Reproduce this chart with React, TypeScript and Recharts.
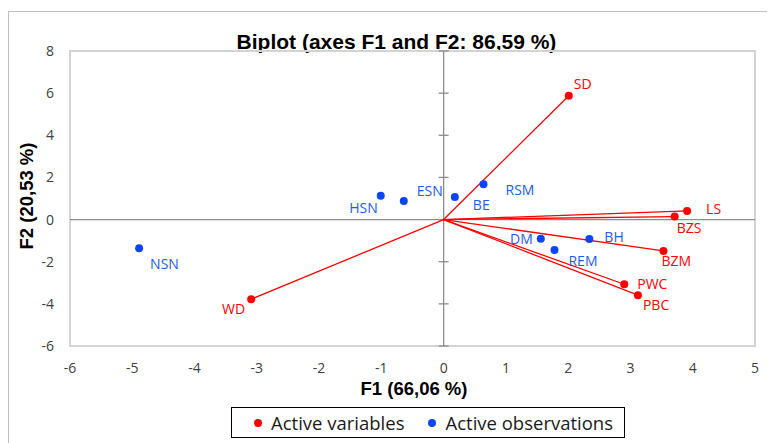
import {
    ScatterChart,
    Scatter,
    XAxis,
    YAxis,
    ReferenceLine,
    ReferenceArea,
    LabelList,
} from 'recharts';

const X_TICKS = [-6, -5, -4, -3, -2, -1, 0, 1, 2, 3, 4, 5];
const Y_TICKS = [-6, -4, -2, 0, 2, 4, 6, 8];

// active variables (red vectors)
const VARIABLE_NAMES = ['SD', 'LS', 'BZS', 'BZM', 'PWC', 'PBC', 'WD'];
const VARIABLE_F1 = [2.01, 3.91, 3.71, 3.53, 2.9, 3.12, -3.09];
const VARIABLE_F2 = [5.88, 0.41, 0.14, -1.49, -3.07, -3.59, -3.78];

// active observations (blue points)
const OBS_NAMES = ['HSN', 'ESN', 'BE', 'RSM', 'NSN', 'DM', 'BH', 'REM'];
const OBS_F1 = [-1.01, -0.64, 0.18, 0.64, -4.89, 1.56, 2.34, 1.78];
const OBS_F2 = [1.13, 0.88, 1.07, 1.68, -1.36, -0.91, -0.92, -1.44];

const RED = '#ff0000';
const BLUE = '#0b45f5';
const BLUE_TEXT = '#1f5af0';
const TICK_FONT = '"Open Sans", sans-serif';
const BOLD_FONT = '"Liberation Sans", Arial, sans-serif';

// label placement around each dot, in px
const LABEL_POS: Record<string, { dx: number; dy: number; anchor: 'start' | 'end' }> = {
    SD: { dx: 5, dy: -12, anchor: 'start' },
    LS: { dx: 19, dy: -2, anchor: 'start' },
    BZS: { dx: 2, dy: 11, anchor: 'start' },
    BZM: { dx: -2, dy: 10, anchor: 'start' },
    PWC: { dx: 13, dy: -1, anchor: 'start' },
    PBC: { dx: 5, dy: 9, anchor: 'start' },
    WD: { dx: -6, dy: 9, anchor: 'end' },
    HSN: { dx: -3, dy: 12, anchor: 'end' },
    ESN: { dx: 13, dy: -11, anchor: 'start' },
    BE: { dx: 18, dy: 7, anchor: 'start' },
    RSM: { dx: 22, dy: 5, anchor: 'start' },
    NSN: { dx: 11, dy: 15, anchor: 'start' },
    DM: { dx: -8, dy: 0, anchor: 'end' },
    BH: { dx: 15, dy: -2, anchor: 'start' },
    REM: { dx: 14, dy: 11, anchor: 'start' },
};

const variables = VARIABLE_NAMES.map((name, i) => ({ name, x: VARIABLE_F1[i], y: VARIABLE_F2[i] }));
const observations = OBS_NAMES.map((name, i) => ({ name, x: OBS_F1[i], y: OBS_F2[i] }));

// eslint-disable-next-line @typescript-eslint/no-explicit-any
const Dot = (props: any) => <circle cx={props.cx} cy={props.cy} r={4} fill={props.fill} />;

const makeLabel = (color: string) => {
    // eslint-disable-next-line @typescript-eslint/no-explicit-any
    return (props: any) => {
        const { x, y, width, height, value } = props;
        const pos = LABEL_POS[value] || { dx: 6, dy: 0, anchor: 'start' };
        const cx = x + (width || 0) / 2;
        const cy = y + (height || 0) / 2;
        return (
            <text
                x={cx + pos.dx}
                y={cy + pos.dy}
                textAnchor={pos.anchor}
                dominantBaseline="central"
                fill={color}
                fontSize={14}
                fontFamily={TICK_FONT}
            >
                {value}
            </text>
        );
    };
};

const LegendItem = ({ color, text }: { color: string; text: string }) => (
    <div style={{ display: 'flex', alignItems: 'center', gap: 9 }}>
        <span style={{ width: 8, height: 8, borderRadius: '50%', background: color, display: 'inline-block' }} />
        <span>{text}</span>
    </div>
);

export default function App() {
    return (
        <div style={{ position: 'relative', width: 767, height: 435, overflow: 'hidden', background: '#fff' }}>
            <div
                style={{
                    position: 'absolute',
                    left: 0,
                    top: 3,
                    width: 800,
                    height: 500,
                    border: '1px solid #bfbfbf',
                }}
            />
            <div style={{ position: 'absolute', left: 0, top: 0 }}>
                <ScatterChart width={767} height={435} margin={{ top: 43, right: 20, left: 0, bottom: 67 }}>
                    <XAxis
                        type="number"
                        dataKey="x"
                        domain={[-6, 5]}
                        ticks={X_TICKS}
                        interval={0}
                        axisLine={false}
                        tickLine={false}
                        tickSize={0}
                        tickMargin={17}
                        height={30}
                        tick={{ fill: '#404040', fontSize: 14, fontFamily: TICK_FONT }}
                        allowDataOverflow
                    />
                    <YAxis
                        type="number"
                        dataKey="y"
                        domain={[-6, 8]}
                        ticks={Y_TICKS}
                        interval={0}
                        axisLine={false}
                        tickLine={false}
                        tickSize={0}
                        tickMargin={16}
                        width={62}
                        tick={{ fill: '#404040', fontSize: 14, fontFamily: TICK_FONT }}
                        allowDataOverflow
                    />
                    <ReferenceArea x1={-6} x2={5} y1={-6} y2={8} fill="none" stroke="#d3d3d3" strokeWidth={2} />
                    <ReferenceLine y={0} stroke="#8c8c8c" strokeWidth={1.3} />
                    <ReferenceLine x={0} stroke="#8c8c8c" strokeWidth={1.3} />
                    {Y_TICKS.map((t) => (
                        <ReferenceLine
                            key={`tick-${t}`}
                            segment={[{ x: -0.08, y: t }, { x: 0.08, y: t }]}
                            stroke="#8c8c8c"
                            strokeWidth={1.3}
                        />
                    ))}
                    {variables.map((v) => (
                        <ReferenceLine
                            key={`vec-${v.name}`}
                            segment={[{ x: 0, y: 0 }, { x: v.x, y: v.y }]}
                            stroke={RED}
                            strokeWidth={1.3}
                        />
                    ))}
                    <Scatter
                        name="Active variables"
                        data={variables}
                        fill={RED}
                        shape={Dot}
                        isAnimationActive={false}
                    >
                        <LabelList dataKey="name" content={makeLabel(RED)} />
                    </Scatter>
                    <Scatter
                        name="Active observations"
                        data={observations}
                        fill={BLUE}
                        shape={Dot}
                        isAnimationActive={false}
                    >
                        <LabelList dataKey="name" content={makeLabel(BLUE_TEXT)} />
                    </Scatter>
                    <text
                        x={388.5}
                        y={41}
                        textAnchor="middle"
                        fontSize={21}
                        fontWeight="bold"
                        fontFamily={BOLD_FONT}
                        fill="#000"
                    >
                        Biplot (axes F1 and F2: 86,59 %)
                    </text>
                    <text
                        x={406}
                        y={387}
                        textAnchor="middle"
                        fontSize={18.5}
                        fontWeight="bold"
                        fontFamily={BOLD_FONT}
                        fill="#000"
                    >
                        F1 (66,06 %)
                    </text>
                    <text
                        x={18}
                        y={188}
                        transform="rotate(-90 18 188)"
                        textAnchor="middle"
                        dominantBaseline="central"
                        fontSize={18.5}
                        fontWeight="bold"
                        fontFamily={BOLD_FONT}
                        fill="#000"
                    >
                        F2 (20,53 %)
                    </text>
                </ScatterChart>
            </div>
            <div
                style={{
                    position: 'absolute',
                    left: 223,
                    top: 399,
                    width: 392,
                    height: 29,
                    border: '1px solid #000',
                    display: 'flex',
                    alignItems: 'center',
                    justifyContent: 'flex-start',
                    boxSizing: 'content-box',
                    paddingLeft: 0,
                    fontFamily: TICK_FONT,
                    fontSize: 18.5,
                    color: '#1a1a1a',
                    background: '#fff',
                }}
            >
                <div style={{ marginLeft: 22 }}>
                    <LegendItem color={RED} text="Active variables" />
                </div>
                <div style={{ marginLeft: 24 }}>
                    <LegendItem color={BLUE} text="Active observations" />
                </div>
            </div>
        </div>
    );
}
